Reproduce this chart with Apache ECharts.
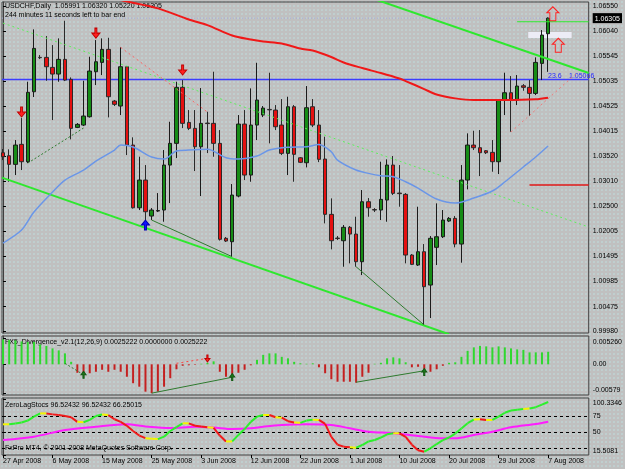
<!DOCTYPE html>
<html>
<head>
<meta charset="utf-8">
<script src="https://cdn.jsdelivr.net/npm/echarts@6/dist/echarts.min.js"></script>
<style>
html, body { margin: 0; padding: 0; }
#chart {
  width: 625px;
  height: 469px;
  background-color: #c0c0c0;
  background-image: radial-gradient(circle, rgba(190, 230, 230, 0.6) 0.6px, transparent 0.9px);
  background-size: 4px 4px;
}
</style>
</head>
<body>
<div id="chart"></div>
<script>
// USDCHF daily, 27 Apr 2008 .. 7 Aug 2008 (Sunday bars included)
const dateLabels = ['27 Apr 2008', '6 May 2008', '15 May 2008', '25 May 2008', '3 Jun 2008', '12 Jun 2008',
  '22 Jun 2008', '1 Jul 2008', '10 Jul 2008', '20 Jul 2008', '29 Jul 2008', '7 Aug 2008']
const labelBars = [0, 8, 16, 24, 32, 40, 48, 56, 64, 72, 80, 88]

const priceOpen = [1.03586, 1.03525, 1.03351, 1.03755, 1.03404, 1.04818, 1.05512, 1.05512, 1.05310, 1.05175,
  1.05472, 1.05068, 1.04098, 1.04145, 1.04313, 1.05222, 1.05411, 1.05674, 1.04630, 1.04529,
  1.05323, 1.03741, 1.02474, 1.03034, 1.02307, 1.02408, 1.02428, 1.03337, 1.03775, 1.04907,
  1.04199, 1.04078, 1.03707, 1.04185, 1.04179, 1.03775, 1.01857, 1.01788, 1.02711, 1.04165,
  1.03135, 1.04145, 1.04347, 1.04461, 1.04448, 1.04145, 1.03573, 1.04515, 1.03484, 1.03384,
  1.04515, 1.04145, 1.03458, 1.02341, 1.01862, 1.01808, 1.02079, 1.01943, 1.01384, 1.02596,
  1.02438, 1.02428, 1.02630, 1.03337, 1.02771, 1.02745, 1.01519, 1.01317, 1.01586, 1.00913,
  1.01675, 1.01889, 1.02206, 1.02260, 1.01741, 1.03034, 1.03741, 1.03687, 1.03626, 1.03593,
  1.03404, 1.04650, 1.04798, 1.04650, 1.04939, 1.04907, 1.04785, 1.05391, 1.05991]
const priceClose = [1.03505, 1.03351, 1.03741, 1.03404, 1.04806, 1.05694, 1.05505, 1.05323, 1.05175, 1.05472,
  1.05054, 1.04078, 1.04159, 1.04327, 1.05236, 1.05424, 1.05674, 1.04717, 1.04563, 1.05323,
  1.03741, 1.02474, 1.03034, 1.02394, 1.02428, 1.02418, 1.03337, 1.03775, 1.04907, 1.04179,
  1.04078, 1.03707, 1.04179, 1.04175, 1.03775, 1.01837, 1.01802, 1.02731, 1.04165, 1.03135,
  1.04145, 1.04650, 1.04488, 1.04452, 1.04111, 1.03573, 1.04515, 1.03553, 1.03392, 1.04495,
  1.04145, 1.03452, 1.02341, 1.01808, 1.01852, 1.02079, 1.01943, 1.01384, 1.02596, 1.02474,
  1.02428, 1.02644, 1.03337, 1.02765, 1.02759, 1.01519, 1.01331, 1.01586, 1.00879, 1.01857,
  1.01889, 1.02226, 1.02260, 1.01741, 1.03034, 1.03741, 1.03687, 1.03586, 1.03586, 1.03404,
  1.04650, 1.04798, 1.04650, 1.04933, 1.04907, 1.04785, 1.05411, 1.05963, 1.06305]
const priceLow = [1.03438, 1.03000, 1.03135, 1.03236, 1.03377, 1.04711, 1.05478, 1.05040, 1.04246, 1.05020,
  1.05034, 1.03856, 1.04084, 1.04125, 1.04296, 1.04953, 1.05155, 1.04300, 1.04529, 1.04347,
  1.03539, 1.02458, 1.02428, 1.02206, 1.02226, 1.02388, 1.02192, 1.02569, 1.03478, 1.04084,
  1.04044, 1.03216, 1.02711, 1.03579, 1.03505, 1.01812, 1.01782, 1.01485, 1.02685, 1.03034,
  1.03000, 1.03842, 1.04306, 1.03775, 1.04044, 1.03539, 1.03135, 1.03000, 1.03377, 1.03290,
  1.04104, 1.03396, 1.02159, 1.01634, 1.01822, 1.01283, 1.01351, 1.01283, 1.01115, 1.02293,
  1.02388, 1.02226, 1.02192, 1.02731, 1.02495, 1.01351, 1.01317, 1.01297, 1.00105, 1.00246,
  1.01317, 1.01862, 1.02186, 1.01675, 1.01364, 1.02846, 1.03640, 1.03114, 1.03559, 1.03202,
  1.03155, 1.04347, 1.04010, 1.04549, 1.04838, 1.04327, 1.04751, 1.05054, 1.05220]
const priceHigh = [1.03660, 1.03654, 1.03842, 1.04286, 1.05020, 1.06078, 1.05559, 1.05943, 1.05761, 1.05896,
  1.06252, 1.05108, 1.04185, 1.05040, 1.05525, 1.05862, 1.05896, 1.05908, 1.04650, 1.05715,
  1.05337, 1.03897, 1.03505, 1.03337, 1.02468, 1.02771, 1.03640, 1.04212, 1.05020, 1.05054,
  1.04448, 1.04448, 1.04892, 1.04414, 1.05222, 1.04044, 1.01883, 1.02953, 1.04347, 1.04448,
  1.04886, 1.05403, 1.04529, 1.05202, 1.04549, 1.04670, 1.04717, 1.04549, 1.03499, 1.04933,
  1.04670, 1.04448, 1.03909, 1.02664, 1.01903, 1.02125, 1.02105, 1.02293, 1.02832, 1.02670,
  1.02468, 1.03404, 1.03452, 1.03519, 1.03337, 1.02771, 1.01539, 1.02495, 1.01741, 1.01903,
  1.02563, 1.02428, 1.02287, 1.02307, 1.03337, 1.03977, 1.04030, 1.04044, 1.03640, 1.03842,
  1.04670, 1.05202, 1.05135, 1.05155, 1.04973, 1.05054, 1.05512, 1.06064, 1.06320]

// moving averages, read at selected bars
const redMaBar = [18, 19, 25, 30, 33, 37, 40, 42, 45, 48, 50, 53, 55, 58, 61, 64, 65, 68, 70, 73, 76, 81, 86, 88]
const redMaVal = [1.06731, 1.06670, 1.06502, 1.06276, 1.06165, 1.05953, 1.05872, 1.05832, 1.05791, 1.05690,
  1.05650, 1.05519, 1.05408, 1.05296, 1.05195, 1.05084, 1.05034, 1.04872, 1.04761, 1.04684, 1.04650,
  1.04650, 1.04664, 1.04696]
const blueMaBar = [0, 3, 5, 8, 10, 13, 15, 18, 19, 21, 24, 26, 28, 30, 33, 36, 38, 41, 43, 46, 49, 51, 53,
  54, 57, 59, 61, 63, 65, 67, 70, 73, 76, 79, 81, 84, 86, 88]
const blueMaVal = [1.01761, 1.02024, 1.02388, 1.02792, 1.03034, 1.03236, 1.03418, 1.03640, 1.03741, 1.03701,
  1.03499, 1.03458, 1.03620, 1.03640, 1.03654, 1.03484, 1.03458, 1.03519, 1.03640, 1.03695, 1.03707,
  1.03751, 1.03606, 1.03438, 1.03236, 1.03169, 1.03121, 1.03101, 1.02999, 1.02872, 1.02650, 1.02569,
  1.02670, 1.02812, 1.02994, 1.03297, 1.03499, 1.03721]

// drawn objects: [bar, price] end points
const channelTop = [[58, 1.06775], [94.56, 1.05197]]
const channelMid = [[0, 1.06205], [94.56, 1.02085]]
const channelBottom = [[-0.16, 1.03083], [72, 0.99919]]
const fibLevel = 1.05066
const bidPrice = 1.06305
const greenLevel = [[83, 1.06232], [94.56, 1.06232]]
const redLevel = [[85, 1.02933], [94.56, 1.02933]]
const divRedHigh = [[19, 1.05715], [33, 1.04408]]
const divRedLow = [[82, 1.04004], [92.8, 1.05216]]
const divGreenA = [[4, 1.03377], [13, 1.04084]]
const divGreenB = [[24, 1.02226], [37, 1.01485]]
const divGreenC = [[57, 1.01283], [68, 1.00105]]
const sellArrowBar = [3, 15, 29]
const sellArrowPrice = [1.04408, 1.06003, 1.05256]
const buyArrowBar = [23]
const buyArrowPrice = [1.02125]
const signalArrowBar = [88.77, 89.65]
const signalArrowPrice = [1.06393, 1.05757]
const boxBars = [84.8, 91.8]
const boxPrices = [1.05902, 1.06024]

const priceTicks = [0.99980, 1.00475, 1.00985, 1.01495, 1.02005, 1.02500, 1.03010, 1.03520, 1.04015,
  1.04525, 1.05035, 1.05545, 1.06040, 1.06550]

// FX5 divergence histogram
const macdHist = [0.0050, 0.0049, 0.0048, 0.0046, 0.0045, 0.0045, 0.0040, 0.0037, 0.0032, 0.0028,
  0.0022, 0.0005, -0.0017, -0.0021, -0.0018, -0.0015, -0.0011, -0.0015, -0.0011, -0.0015,
  -0.0025, -0.0038, -0.0045, -0.0055, -0.0058, -0.0055, -0.0045, -0.0028, -0.0010, -0.0003,
  -0.0002, -0.0001, 0.0001, 0.0003, 0.0006, -0.0015, -0.0025, -0.0028, -0.0017, -0.0011,
  -0.0002, 0.0009, 0.0019, 0.0022, 0.0022, 0.0015, 0.0012, 0.0005, 0.0002, 0.0001,
  0.0002, -0.0006, -0.0018, -0.0030, -0.0035, -0.0035, -0.0035, -0.0037, -0.0025, -0.0017,
  0.0001, 0.0003, 0.0012, 0.0014, 0.0012, 0.0004, -0.0006, -0.0005, -0.0017, -0.0015,
  -0.0010, -0.0003, 0.0003, 0.0004, 0.0015, 0.0027, 0.0034, 0.0037, 0.0036, 0.0034,
  0.0036, 0.0034, 0.0032, 0.0030, 0.0029, 0.0024, 0.0024, 0.0024, 0.0025222]
const macdDivA = [[10, 0.0002], [13, -0.0021]]
const macdDivB = [[24, -0.0058], [37, -0.0026]]
const macdDivR = [[28, 0.0002], [33, 0.0012]]
const macdDivC = [[57, -0.0036], [68, -0.0013]]
const macdUpBar = [13, 37, 68]
const macdUpVal = [-0.0021, -0.00255, -0.00155]
const macdDownBar = [33]
const macdDownVal = [0.00117]
const macdTicks = [-0.00579, 0, 0.00526]
const macdTickText = ['-0.00579', '0.00', '0.005260']

// ZeroLag stochastic
const stochMain = [62.3, 62.3, 63.4, 65, 68, 74, 79, 79, 77.5, 76.5,
  75, 73, 66, 65.5, 69, 75, 77.2, 76.4, 70, 66,
  60, 52, 45, 41, 40.3, 39.6, 43.3, 52, 58, 63.8,
  63.8, 60, 58.8, 57.6, 56.8, 45, 36, 36, 46, 55,
  66, 74, 76.5, 76.5, 73, 72.4, 67, 65, 64.5, 68,
  69.2, 69, 63, 43, 31, 28, 27, 26.5, 30.5, 36,
  38.2, 42, 47, 48.5, 48.5, 43, 31, 22.5, 20.3, 25.5,
  32, 38, 42, 48, 56, 64, 69.5, 70, 68.8, 69,
  74, 80, 83.5, 84.6, 85.7, 86.5, 88.5, 92.5, 96.52]
const stochSigBar = [0, 5, 10, 15, 20, 23, 27, 31, 34, 37, 40, 42, 45, 49, 53, 56, 59, 63, 67, 71, 73, 76, 79, 82, 86, 88]
const stochSigVal = [38.2, 43.3, 53.5, 58.6, 62.3, 59, 56.5, 58.6, 57.3, 55, 56.1, 58.6, 61.3, 62.3, 61.3,
  56.1, 51, 48.5, 44.3, 40.8, 40.8, 45.9, 51, 57.6, 62.8, 66.25]
const stochLevels = [25, 50, 75]
const stochTicks = [15.5081, 25, 50, 75, 100.3346]
const stochTickText = ['15.5081', '25', '50', '75', '100.3346']

const FONT = '"Liberation Sans", Arial, sans-serif'
const X_MIN = -0.16
const X_MAX = 94.56
const AXIS_COLOR = '#404040'

const chart = echarts.init(document.getElementById('chart'))

const pair = (xs, ys) => xs.map((x, i) => [x, ys[i]])

function xAxisFor(gridIndex, withLabels) {
  return {
    type: 'value',
    gridIndex,
    min: X_MIN,
    max: X_MAX,
    splitLine: { show: false },
    axisLine: { show: false },
    axisTick: withLabels
      ? { show: true, customValues: labelBars, length: 3, lineStyle: { color: '#000' } }
      : { show: false },
    axisLabel: withLabels
      ? {
          show: true,
          customValues: labelBars,
          formatter: v => dateLabels[labelBars.indexOf(v)],
          align: 'left',
          fontSize: 7,
          fontFamily: FONT,
          color: '#000',
          margin: 3
        }
      : { show: false }
  }
}

function yAxisFor(gridIndex, min, max, ticks, fmt) {
  return {
    type: 'value',
    gridIndex,
    position: 'right',
    min,
    max,
    splitLine: { show: false },
    axisLine: { show: true, lineStyle: { color: AXIS_COLOR } },
    axisTick: { show: true, customValues: ticks, length: 3, lineStyle: { color: '#000' } },
    axisLabel: {
      customValues: ticks,
      formatter: fmt,
      showMinLabel: true,
      showMaxLabel: true,
      hideOverlap: false,
      fontSize: 7,
      fontFamily: FONT,
      color: '#000',
      margin: 4
    }
  }
}

function lineSeries(pts, color, width, type, gi, z) {
  return {
    type: 'line',
    xAxisIndex: gi,
    yAxisIndex: gi,
    data: pts,
    symbol: 'none',
    silent: true,
    lineStyle: { color, width, type },
    z: z || 5
  }
}

function arrowSeries(xs, ys, path, size, fill, stroke, gi) {
  return {
    type: 'scatter',
    xAxisIndex: gi,
    yAxisIndex: gi,
    data: pair(xs, ys),
    symbol: path,
    symbolSize: size,
    silent: true,
    itemStyle: { color: fill, borderColor: stroke, borderWidth: 1, opacity: 1 },
    z: 8
  }
}

const ARROW_DOWN = 'path://M3,0 L5,0 L5,5 L8,5 L4,10 L0,5 L3,5 Z'
const ARROW_UP = 'path://M4,0 L8,5 L5,5 L5,10 L3,10 L3,5 L0,5 Z'
const ARROW_UP_BIG = 'path://M6,0 L12,6 L9,6 L9,14 L3,14 L3,6 L0,6 Z'

const priceLabelValues = priceTicks.concat([bidPrice]).sort((a, b) => a - b)

const option = {
  animation: false,
  backgroundColor: 'transparent',
  grid: [
    { left: 2, top: 2, width: 592, height: 331, show: true, borderColor: AXIS_COLOR, borderWidth: 1 },
    { left: 2, top: 336, width: 592, height: 59, show: true, borderColor: AXIS_COLOR, borderWidth: 1 },
    { left: 2, top: 398, width: 592, height: 57, show: true, borderColor: AXIS_COLOR, borderWidth: 1 }
  ],
  xAxis: [xAxisFor(0, false), xAxisFor(1, false), xAxisFor(2, true)],
  yAxis: [
    yAxisFor(0, 0.99944, 1.06631, priceTicks, v => v === bidPrice ? '{cur|' + v.toFixed(5) + '}' : v.toFixed(5)),
    yAxisFor(1, -0.00617, 0.00569, macdTicks, v => macdTickText[macdTicks.indexOf(v)]),
    yAxisFor(2, 15.2, 102.6, stochTicks, v => stochTickText[stochTicks.indexOf(v)])
  ],
  graphic: [
    { type: 'text', left: 5, top: 3, style: { text: 'USDCHF,Daily  1.05991 1.06320 1.05220 1.06305', font: '7px ' + FONT, fill: '#000' } },
    { type: 'text', left: 5, top: 12, style: { text: '244 minutes 11 seconds left to bar end', font: '7px ' + FONT, fill: '#000' } },
    { type: 'text', left: 548, top: 73, style: { text: '23.6', font: '7px ' + FONT, fill: '#2828ff' } },
    { type: 'text', left: 569, top: 73, style: { text: '1.05066', font: '7px ' + FONT, fill: '#2828ff' } },
    { type: 'text', left: 5, top: 339, style: { text: 'FX5_Divergence_v2.1(12,26,9) 0.0025222 0.0000000 0.0025222', font: '7px ' + FONT, fill: '#000' } },
    { type: 'text', left: 5, top: 402, style: { text: 'ZeroLagStocs 96.52432 96.52432 66.25015', font: '7px ' + FONT, fill: '#000' } },
    { type: 'text', left: 5, top: 445, style: { text: 'FxPro MT4, © 2001-2008 MetaQuotes Software Corp.', font: '7px ' + FONT, fill: '#000' } }
  ],
  series: [
    // highlight box and horizontal levels
    {
      type: 'line', xAxisIndex: 0, yAxisIndex: 0, data: [], silent: true,
      markArea: {
        silent: true,
        itemStyle: { color: '#ececf6' },
        data: [[{ coord: [boxBars[0], boxPrices[1]] }, { coord: [boxBars[1], boxPrices[0]] }]]
      },
      z: 1
    },
    lineSeries([[X_MIN, bidPrice], [X_MAX, bidPrice]], '#a8a8d8', 1, [1, 2], 0, 1),
    lineSeries([[X_MIN, fibLevel], [X_MAX, fibLevel]], '#3c3cff', 1.5, 'solid', 0, 1),
    {
      type: 'candlestick',
      xAxisIndex: 0,
      yAxisIndex: 0,
      data: priceOpen.map((o, i) => [i, o, priceClose[i], priceLow[i], priceHigh[i]]),
      barWidth: 4,
      silent: true,
      itemStyle: {
        color: '#168c16',
        color0: '#e41010',
        borderColor: '#1a1a1a',
        borderColor0: '#2a2a2a',
        borderColorDoji: '#1a1a1a',
        borderWidth: 1
      },
      z: 2
    },
    lineSeries(channelMid, '#5cf05c', 1, [2, 3], 0),
    lineSeries(channelTop, '#2ee82e', 2, 'solid', 0),
    lineSeries(channelBottom, '#2ee82e', 2, 'solid', 0),
    lineSeries(greenLevel, '#2ee82e', 1, 'solid', 0),
    lineSeries(redLevel, '#e01818', 1.5, 'solid', 0),
    lineSeries(divRedHigh, '#ff6060', 1, [2, 3], 0),
    lineSeries(divRedLow, '#f07878', 1, [2, 3], 0),
    lineSeries(divGreenA, '#2e7a2e', 1, [2, 2], 0),
    lineSeries(divGreenB, '#2e7a2e', 1, 'solid', 0),
    lineSeries(divGreenC, '#2e7a2e', 1, 'solid', 0),
    Object.assign(lineSeries(pair(blueMaBar, blueMaVal), '#6a96e8', 1.5, 'solid', 0), { smooth: 0.3 }),
    Object.assign(lineSeries(pair(redMaBar, redMaVal), '#f01818', 2, 'solid', 0), { smooth: 0.3 }),
    arrowSeries(sellArrowBar, sellArrowPrice, ARROW_DOWN, [8, 10], '#ff2020', '#c00000', 0),
    arrowSeries(buyArrowBar, buyArrowPrice, ARROW_UP, [8, 10], '#1010ff', '#0000b0', 0),
    arrowSeries(signalArrowBar, signalArrowPrice, ARROW_UP_BIG, [12, 14], 'rgba(0,0,0,0)', '#ff2020', 0),

    // MACD panel
    {
      type: 'bar',
      xAxisIndex: 1,
      yAxisIndex: 1,
      data: macdHist.map((v, i) => [i, v]),
      barWidth: 2,
      silent: true,
      itemStyle: { color: p => (p.value[1] >= 0 ? '#2fd82f' : '#c42020') }
    },
    lineSeries(macdDivA, '#2e7a2e', 1, [2, 2], 1),
    lineSeries(macdDivB, '#2e7a2e', 1, 'solid', 1),
    lineSeries(macdDivR, '#ff4040', 1, [2, 3], 1),
    lineSeries(macdDivC, '#2e7a2e', 1, 'solid', 1),
    arrowSeries(macdUpBar, macdUpVal, ARROW_UP, [5, 7], '#1c7c1c', '#145a14', 1),
    arrowSeries(macdDownBar, macdDownVal, ARROW_DOWN, [5, 7], '#ff2020', '#c00000', 1),

    // ZeroLag stochastic panel
    {
      type: 'line', xAxisIndex: 2, yAxisIndex: 2, data: [], silent: true,
      markLine: {
        silent: true,
        symbol: 'none',
        label: { show: false },
        lineStyle: { color: '#000', width: 1, type: [3, 3] },
        data: stochLevels.map(v => ({ yAxis: v }))
      }
    },
    Object.assign(lineSeries(pair(stochSigBar, stochSigVal), '#ff1cff', 2, 'solid', 2), { smooth: 0.3 }),
    {
      type: 'custom',
      xAxisIndex: 2,
      yAxisIndex: 2,
      silent: true,
      data: stochMain.slice(0, -1).map((v, i) => [i, v, stochMain[i + 1]]),
      encode: { x: 0, y: [1, 2] },
      renderItem: (params, api) => {
        const i = api.value(0)
        const a = api.value(1)
        const b = api.value(2)
        const p0 = api.coord([i, a])
        const p1 = api.coord([i + 1, b])
        const d = b - a
        const stroke = d > 0.9 ? '#2cf02c' : d < -0.9 ? '#f01a1a' : '#f4f400'
        return {
          type: 'line',
          shape: { x1: p0[0], y1: p0[1], x2: p1[0], y2: p1[1] },
          style: { stroke, lineWidth: 2 }
        }
      },
      z: 6
    }
  ]
}

// current-price box on the price axis
option.yAxis[0].axisLabel.customValues = priceLabelValues
option.yAxis[0].axisLabel.rich = {
  cur: { backgroundColor: '#000', color: '#fff', fontSize: 7, fontFamily: FONT, padding: [2, 2, 1, 2] }
}
option.yAxis[1].axisLabel.verticalAlignMinLabel = 'bottom'
option.yAxis[1].axisLabel.verticalAlignMaxLabel = 'top'
option.yAxis[2].axisLabel.verticalAlignMinLabel = 'bottom'
option.yAxis[2].axisLabel.verticalAlignMaxLabel = 'top'

chart.setOption(option)
</script>
</body>
</html>
